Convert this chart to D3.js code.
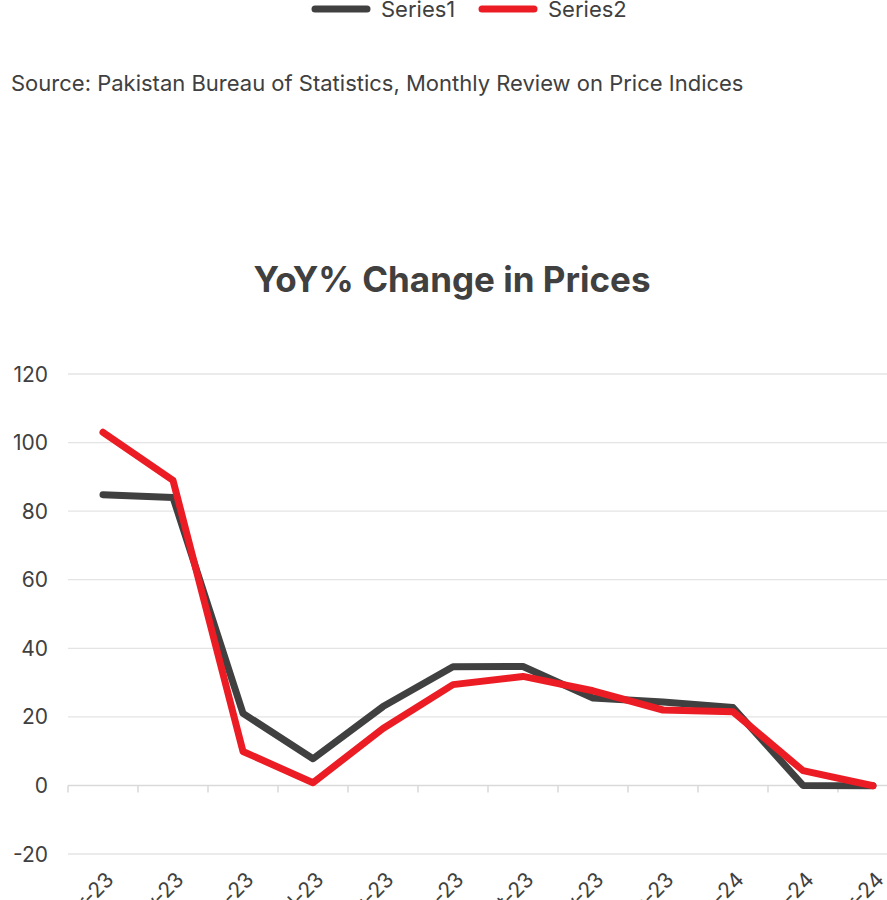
<!DOCTYPE html>
<meta charset="utf-8">
<style>
body { margin: 0; background: #fff; overflow: hidden; }
svg { display: block; font-family: Inter, "Noto Sans", sans-serif; }
.grid line { stroke: #e4e4e4; stroke-width: 1.3px; }
.y-label { fill: #404040; font-size: 21px; text-anchor: end; }
.x-label { fill: #404040; font-size: 21px; text-anchor: end; }
.series { fill: none; stroke-width: 7px; stroke-linejoin: round; stroke-linecap: round; }
</style>
<svg width="887" height="900"></svg>
<script src="https://cdn.jsdelivr.net/npm/d3@7"></script>
<script>

var months = ["Apr-23", "May-23", "Jun-23", "Jul-23", "Aug-23", "Sep-23",
              "Oct-23", "Nov-23", "Dec-23", "Jan-24", "Feb-24", "Mar-24"];

var series1 = [84.8, 84.0, 21.0, 7.8, 23.0, 34.6, 34.7, 25.5, 24.3, 22.7, 0.0, -0.1];
var series2 = [103.0, 89.0, 9.9, 0.8, 16.6, 29.4, 31.8, 27.6, 22.0, 21.5, 4.3, -0.1];

var yTicks = [-20, 0, 20, 40, 60, 80, 100, 120];

var seriesNames = ["Series1", "Series2"],
    seriesColors = ["#404040", "#ec1c24"];

var svg = d3.select("svg");

var x = d3.scaleBand()
    .domain(months)
    .range([68, 908]);

var y = d3.scaleLinear()
    .domain([-20, 120])
    .range([854, 374]);

// legend (top, partly cut off)
var legend = svg.append("g");
var legendX = [312, 479];
seriesNames.forEach(function(name, i) {
  legend.append("line")
      .attr("x1", legendX[i] + 3).attr("x2", legendX[i] + 55)
      .attr("y1", 9).attr("y2", 9)
      .attr("stroke", seriesColors[i])
      .attr("stroke-width", 7)
      .attr("stroke-linecap", "round");
  legend.append("text")
      .attr("x", legendX[i] + 69)
      .attr("y", 17)
      .attr("fill", "#404040")
      .style("font-size", "22px")
      .text(name);
});

svg.append("text")
    .attr("x", 11)
    .attr("y", 91)
    .attr("fill", "#404040")
    .style("font-size", "22px")
    .text("Source: Pakistan Bureau of Statistics, Monthly Review on Price Indices");

svg.append("text")
    .attr("x", 452)
    .attr("y", 292)
    .attr("text-anchor", "middle")
    .attr("fill", "#404040")
    .style("font-size", "35px")
    .style("font-weight", 700)
    .text("YoY% Change in Prices");

// gridlines
var grid = svg.append("g").attr("class", "grid");
grid.selectAll("line")
    .data(yTicks.filter(function(d) { return d !== 0; }))
  .enter().append("line")
    .attr("x1", 68).attr("x2", 908)
    .attr("y1", function(d) { return y(d); })
    .attr("y2", function(d) { return y(d); });

svg.selectAll(".y-label")
    .data(yTicks)
  .enter().append("text")
    .attr("class", "y-label")
    .attr("x", 48)
    .attr("y", function(d) { return y(d); })
    .attr("dy", "0.36em")
    .text(function(d) { return d; });

// x axis at zero
var xAxis = svg.append("g").attr("stroke", "#d9d9d9").attr("stroke-width", 1.5);
xAxis.append("line")
    .attr("x1", 68).attr("x2", 908)
    .attr("y1", y(0)).attr("y2", y(0));
xAxis.selectAll(".tick")
    .data(months.concat([null]))
  .enter().append("line")
    .attr("x1", function(d, i) { return x.range()[0] + i * x.step(); })
    .attr("x2", function(d, i) { return x.range()[0] + i * x.step(); })
    .attr("y1", y(0)).attr("y2", y(0) + 7);

svg.selectAll(".x-label")
    .data(months)
  .enter().append("text")
    .attr("class", "x-label")
    .attr("transform", function(d) {
      return "translate(" + (x(d) + x.bandwidth() / 2 + 12) + ",881) rotate(-45)";
    })
    .text(function(d) { return d; });

var line = d3.line()
    .x(function(d, i) { return x(months[i]) + x.bandwidth() / 2; })
    .y(function(d) { return y(d); });

[series1, series2].forEach(function(values, i) {
  svg.append("path")
      .attr("class", "series")
      .attr("stroke", seriesColors[i])
      .attr("d", line(values));
});

</script>
